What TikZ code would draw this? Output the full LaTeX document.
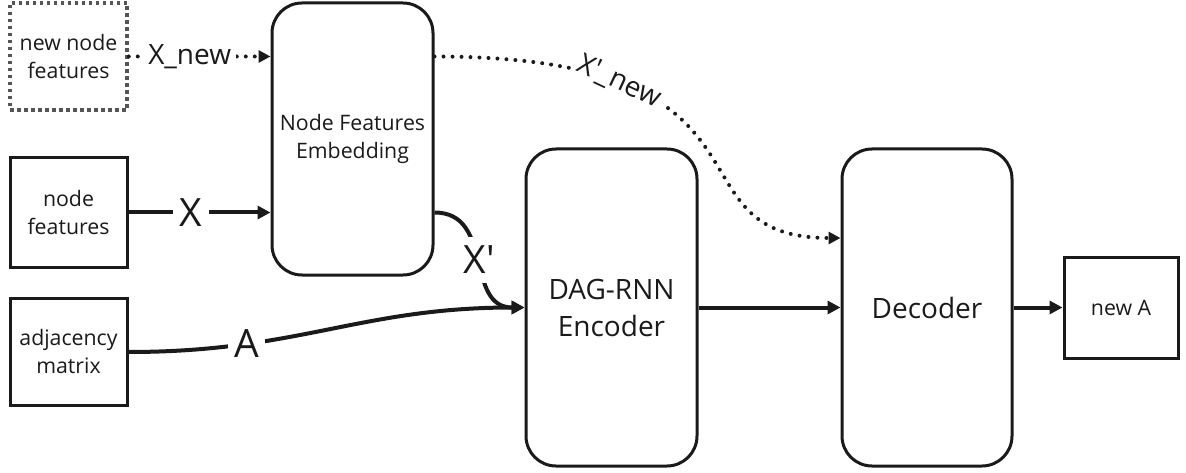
\documentclass[tikz,border=0pt]{standalone}
\usepackage{fontspec}
\setmainfont{Open Sans}[Ligatures=TeXOff]
\usetikzlibrary{arrows.meta,calc}
\definecolor{ink}{HTML}{1A1A1A}
\definecolor{dotgray}{HTML}{555555}
\begin{document}
\begin{tikzpicture}[x=1pt,y=-1pt,
  box/.style={draw=ink, line width=3pt, text=ink, align=center, inner sep=0pt,
    font=\fontsize{21.3}{28}\selectfont},
  rbox/.style={box, rounded corners=30pt},
  flow/.style={line width=4pt, draw=ink, -{Triangle[length=13pt,width=13pt]}},
  dotflow/.style={line width=4pt, draw=ink, line cap=round, dash pattern=on 0pt off 9pt,
    -{Triangle[length=12pt,width=12pt]}},
  biglbl/.style={fill=white, text=ink, inner sep=7pt, font=\fontsize{39}{39}\selectfont},
  lbl/.style={fill=white, text=ink, inner sep=5pt, font=\fontsize{28}{28}\selectfont},
]
\useasboundingbox (0,0) rectangle (1186,473);

% input boxes
\node[box, draw=dotgray, line width=3.5pt, dash pattern=on 3.5pt off 3.5pt,
  minimum width=117pt, minimum height=107pt] (nnf) at (68.5,56.5) {new node\\features};
\node[box, minimum width=117pt, minimum height=109pt] (nf) at (68.5,212.5) {node\\features};
\node[box, minimum width=117pt, minimum height=107pt] (adj) at (68.5,352) {adjacency\\matrix};

% processing blocks
\node[rbox, minimum width=161pt, minimum height=272pt] (nfe) at (352.5,139) {Node Features\\Embedding};
\node[rbox, minimum width=171pt, minimum height=317pt,
  font=\fontsize{28}{37}\selectfont] (enc) at (611.5,307.5) {DAG-RNN\\Encoder};
\node[rbox, minimum width=170pt, minimum height=317pt,
  font=\fontsize{28}{37}\selectfont] (dec) at (927,307.5) {Decoder};
\node[box, minimum width=114pt, minimum height=101pt] (newA) at (1121,307.5) {new A};

% connectors
\draw[dotflow] (nnf.east) -- node[lbl, pos=0.43] {X\_new} (nfe.west |- nnf.east);
\draw[flow] (nf.east) -- node[biglbl, pos=0.44] {X} (nfe.west |- nf.east);
\draw[flow] (adj.east) .. controls +(170,0) and +(-165,0) .. node[biglbl, pos=0.27, inner sep=6pt] {A} (enc.west);
\draw[flow] (nfe.east |- nf.east) .. controls +(60,0) and +(-60,0) .. node[biglbl, pos=0.5, inner sep=9pt] {X'} (enc.west);
\coordinate (decin) at ([yshift=69.5pt]dec.west);
\draw[dotflow] (nfe.east |- nnf.east) .. controls (800,56.5) and (660,238) .. node[lbl, pos=0.235, rotate=-25] {X'\_new} (decin);
\draw[flow] (enc.east) -- (dec.west);
\draw[flow] (dec.east) -- (newA.west);
\end{tikzpicture}
\end{document}
